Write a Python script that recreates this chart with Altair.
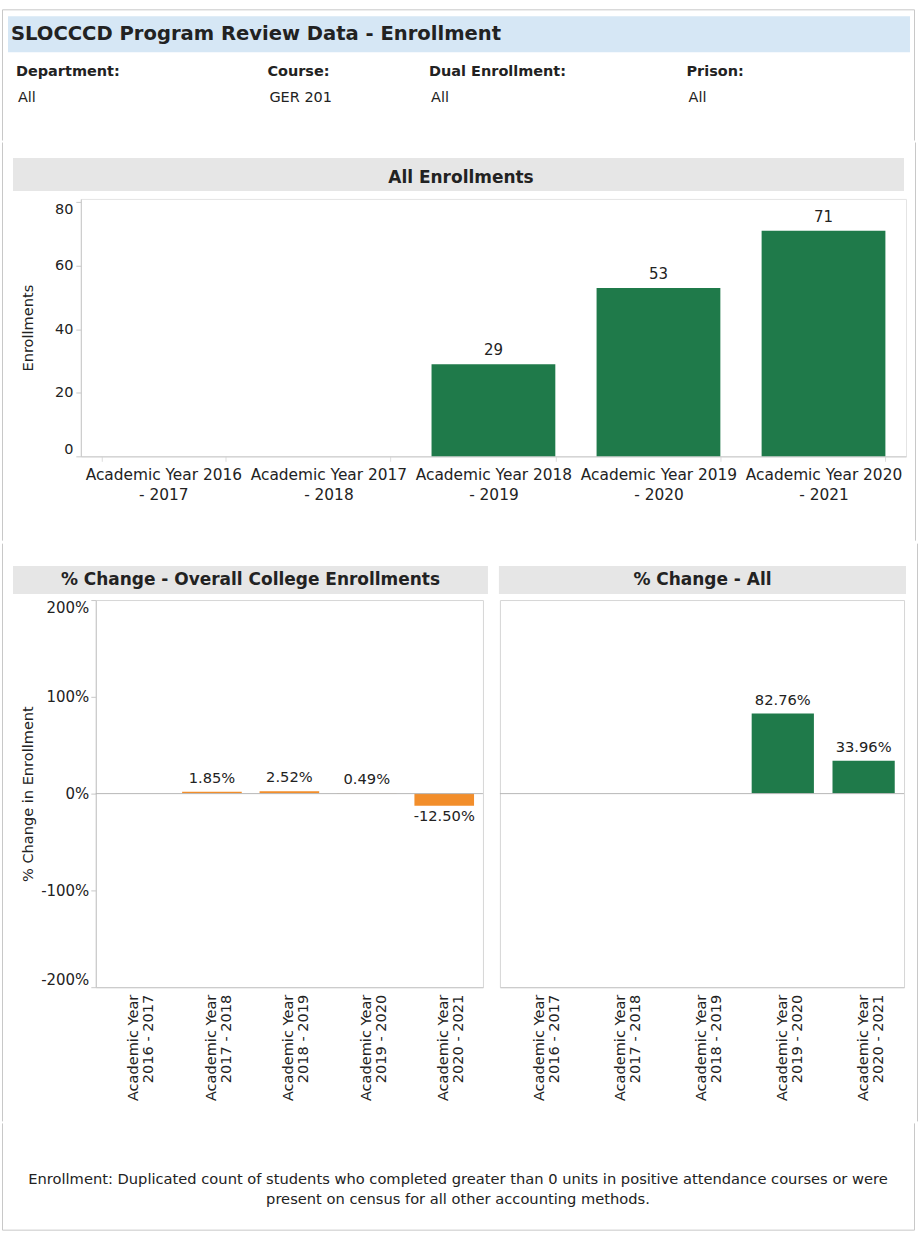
import altair as alt
import pandas as pd

# ---------------- data ----------------
years = [
    "Academic Year 2016 - 2017",
    "Academic Year 2017 - 2018",
    "Academic Year 2018 - 2019",
    "Academic Year 2019 - 2020",
    "Academic Year 2020 - 2021",
]
enrollments = [None, None, 29, 53, 71]
college_change = [None, 1.85, 2.52, 0.49, -12.50]
course_change = [None, None, None, 82.76, 33.96]

dashboard_title = "SLOCCCD Program Review Data - Enrollment"
filter_names = ["Department:", "Course:", "Dual Enrollment:", "Prison:"]
filter_values = ["All", "GER 201", "All", "All"]
enroll_title = "All Enrollments"
college_title = "% Change - Overall College Enrollments"
course_title = "% Change - All"
enroll_axis_title = "Enrollments"
change_axis_title = "% Change in Enrollment"
enroll_ticks = [0, 20, 40, 60, 80]
change_ticks = [-200, -100, 0, 100, 200]
zero_line = [0]
footer_text = ("Enrollment: Duplicated count of students who completed greater than 0 units "
               "in positive attendance courses or were\n"
               "present on census for all other accounting methods.")

# ---------------- layout / style ----------------
FONT = "DejaVu Sans"
GREEN = "#1f7a4a"
ORANGE = "#f28e2b"
FRAME = "#c8c8c8"
TXT = "#222222"
AX = "#c8c8c8"
BLUE_BAND = "#d6e7f5"
GRAY_BAND = "#e6e6e6"
filter_x = [14, 266, 428, 686]


def one():
    return alt.Data(values=[{"a": 1}])


def vline(x, y1, y2, color=FRAME):
    return alt.Chart(one()).mark_rule(color=color, strokeWidth=1).encode(
        x=alt.value(x), y=alt.value(y1), y2=alt.value(y2))


def hline(x1, x2, y, color=FRAME):
    return alt.Chart(one()).mark_rule(color=color, strokeWidth=1).encode(
        x=alt.value(x1), x2=alt.value(x2), y=alt.value(y))


def band(x1, x2, y1, y2, fill):
    return alt.Chart(one()).mark_rect(color=fill).encode(
        x=alt.value(x1), x2=alt.value(x2), y=alt.value(y1), y2=alt.value(y2))


def label(text, x, y, size, weight="normal", align="center"):
    return alt.Chart(alt.Data(values=[{"t": text}])).mark_text(
        fontSize=size, fontWeight=weight, align=align, baseline="middle", color=TXT,
        lineBreak="\n", lineHeight=20
    ).encode(x=alt.value(x), y=alt.value(y), text="t:N")


def spacer(y1, y2):
    # carries the left border of the dashboard for one row
    return vline(0.5, y1, y2).properties(
        width=1, height=1, view=alt.ViewBackground(stroke="transparent", strokeWidth=0))


# ---------------- A: header ----------------
WA, HA = 914, 131
a_layers = [
    hline(0.5, 914.5, 0.5), vline(0.5, 0.5, 131.5), vline(914.5, 0.5, 131.5),
    band(6, 910, 7, 43, BLUE_BAND),
    label(dashboard_title, 9, 25, 19.6, "bold", "left"),
]
for nm, val, fx in zip(filter_names, filter_values, filter_x):
    a_layers.append(label(nm, fx, 63, 14.5, "bold", "left"))
    a_layers.append(label(val, fx + 2, 89, 14.5, "normal", "left"))
chart_a = alt.layer(*a_layers).properties(
    width=WA, height=HA, view=alt.ViewBackground(stroke="transparent", strokeWidth=0))

# ---------------- B: all enrollments ----------------
WB, HB = 827, 258
df_enr = pd.DataFrame({"year": years, "value": enrollments})
xB = alt.X("year:N", sort=years,
           scale=alt.Scale(domain=years, paddingInner=0.25, paddingOuter=0.125),
           axis=alt.Axis(title=None, labelAngle=0,
                         labelExpr="datum.label ? [substring(datum.label, 0, 18), substring(datum.label, 19)] : ''",
                         labelFontSize=15.4, labelLineHeight=20, labelPadding=6,
                         labelColor=TXT, domainColor=AX, tickBand="extent",
                         tickColor="#dddddd", tickSize=5))
yB = alt.Y("value:Q", scale=alt.Scale(domain=[0, 81], nice=False),
           axis=alt.Axis(values=enroll_ticks, title=enroll_axis_title, grid=False,
                         titleFontSize=14.6, titleFontWeight="normal", titleColor=TXT,
                         titleX=-52, titleY=HB / 2, titleAngle=270, titleAlign="center",
                         titleBaseline="middle", labelFontSize=14.5, labelColor=TXT,
                         labelFlush=5, labelPadding=3, tickSize=5, tickColor=AX,
                         domainColor=AX))
bars_b = alt.Chart(df_enr).mark_bar(color=GREEN).encode(x=xB, y=yB)
text_b = alt.Chart(df_enr).mark_text(dy=-6, baseline="bottom", fontSize=15, color=TXT).encode(
    x=xB, y=yB, text=alt.Text("value:Q", format="d"))
chart_b = alt.layer(
    vline(836.5, -56.5, 342.5),
    band(-68, 825, -41, -8, GRAY_BAND),
    label(enroll_title, 381, -21, 17, "bold"),
    bars_b, text_b,
).properties(width=WB, height=HB, view=alt.ViewBackground(stroke="#e4e4e4"))

row_b = alt.hconcat(spacer(-56.5, 342.5), chart_b, spacing=9)

# ---------------- C: % change panels ----------------
HC = 388
df_zero = pd.DataFrame({"value": zero_line})


def change_panel(values, color, pad, show_y):
    df = pd.DataFrame({"year": years, "value": values})
    x = alt.X("year:N", sort=years,
              scale=alt.Scale(domain=years, paddingInner=pad, paddingOuter=pad / 2),
              axis=alt.Axis(title=None, labelAngle=270,
                            labelExpr="['Academic Year', substring(datum.label, 14)]",
                            labelFontSize=14.6, labelLineHeight=15, labelPadding=7,
                            labelColor=TXT, domainColor=AX, ticks=False))
    ysc = alt.Scale(domain=[-200, 200], nice=False)
    if show_y:
        yax = alt.Axis(values=change_ticks, labelExpr="datum.value + '%'",
                       title=change_axis_title, grid=False,
                       titleFontSize=14.6, titleFontWeight="normal", titleColor=TXT,
                       titleX=-67, titleY=HC / 2, titleAngle=270, titleAlign="center",
                       titleBaseline="middle", labelFontSize=15, labelColor=TXT,
                       labelFlush=5, labelPadding=2, tickSize=5, tickColor=AX,
                       domainColor=AX)
        y = alt.Y("value:Q", scale=ysc, axis=yax)
    else:
        y = alt.Y("value:Q", scale=ysc, axis=None)
    lbl = "(datum.value < 0 ? '-' : '') + format(abs(datum.value), '.2f') + '%'"
    base = alt.Chart(df)
    zero = alt.Chart(df_zero).mark_rule(color="#b8b8b8").encode(y=y)
    bars = base.mark_bar(color=color).encode(x=x, y=y)
    pos = base.transform_filter("isValid(datum.value) && datum.value >= 0").transform_calculate(
        lbl=lbl).mark_text(baseline="bottom", dy=-6, fontSize=14.7, color=TXT).encode(
        x=x, y=y, text="lbl:N")
    neg = base.transform_filter("isValid(datum.value) && datum.value < 0").transform_calculate(
        lbl=lbl).mark_text(baseline="top", dy=3, fontSize=14.7, color=TXT).encode(
        x=x, y=y, text="lbl:N")
    return bars, zero, pos, neg


l_bars, l_zero, l_pos, l_neg = change_panel(college_change, ORANGE, 0.23, True)
chart_cl = alt.layer(
    band(-83, 393, -34, -6, GRAY_BAND),
    label(college_title, 155, -20, 17, "bold"),
    l_bars, l_zero, l_pos, l_neg,
).properties(width=388, height=HC, view=alt.ViewBackground(stroke="#d6d6d6"))

r_bars, r_zero, r_pos, r_neg = change_panel(course_change, GREEN, 0.23, False)
chart_cr = alt.layer(
    vline(418.5, -56.5, 522.5),
    band(-1, 407, -34, -6, GRAY_BAND),
    label(course_title, 203, -20, 17, "bold"),
    r_bars, r_zero, r_pos, r_neg,
).properties(width=405, height=HC, view=alt.ViewBackground(stroke="#d6d6d6"))

row_c = alt.hconcat(spacer(-56.5, 522.5), chart_cl, chart_cr, spacing=9)

# ---------------- D: footer ----------------
WD, HD = 914, 107
chart_d = alt.layer(
    vline(0.5, 0.5, 107.5), vline(914.5, 0.5, 107.5), hline(0.5, 914.5, 107.5),
    label(footer_text, 457, 57, 14.7),
).properties(width=WD, height=HD, view=alt.ViewBackground(stroke="transparent", strokeWidth=0))

chart = alt.vconcat(chart_a, row_b, row_c, chart_d, spacing=0).properties(
    padding={"left": 2, "top": 8, "right": 0, "bottom": 0}
).configure(font=FONT, background="white")

chart.save("out.html", embed_options={"renderer": "svg", "actions": False})
